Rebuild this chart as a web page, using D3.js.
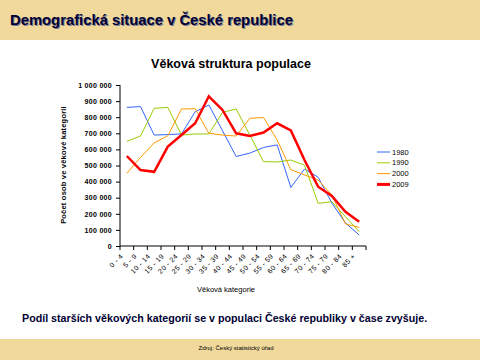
<!DOCTYPE html>
<html><head><meta charset="utf-8">
<script src="https://cdn.jsdelivr.net/npm/d3@7"></script>
<style>body{margin:0;background:#fff}svg{display:block}</style>
</head><body>
<svg id="c" width="480" height="360"></svg>
<script>
const categories = ["0 - 4","5 - 9","10 - 14","15 - 19","20 - 24","25 - 29","30 - 34","35 - 39","40 - 44","45 - 49","50 - 54","55 - 59","60 - 64","65 - 69","70 - 74","75 - 79","80 - 84","85 +"];
const years = ["1980","1990","2000","2009"];
const s1980 = [861000,866000,689000,692000,696000,834000,876000,716000,556000,577000,612000,628000,364000,478000,427000,267000,143000,68000];
const s1990 = [650000,683000,855000,861000,689000,696000,696000,830000,851000,689000,524000,522000,534000,502000,265000,275000,182000,89000];
const s2000 = [451000,550000,640000,685000,851000,853000,700000,689000,683000,793000,798000,658000,474000,441000,410000,317000,137000,116000];
const s2009 = [559000,472000,461000,617000,689000,762000,930000,845000,700000,683000,705000,762000,718000,534000,368000,311000,213000,151000];
const yTicks = [0,100000,200000,300000,400000,500000,600000,700000,800000,900000,1000000];
const colors = ["#3366ff","#99cc00","#ff9900","#ff0000"];
const widths = [1,1,1,2.5];
const series = [s1980,s1990,s2000,s2009];

const svg = d3.select("#c");
const font = "'Liberation Sans', Arial, sans-serif";

// header / footer bands
svg.append("rect").attr("x",0).attr("y",0).attr("width",480).attr("height",40).attr("fill","#f0d99b");
svg.append("rect").attr("x",0).attr("y",339).attr("width",480).attr("height",21).attr("fill","#f0d99b");

const title = "Demografická situace v České republice";
svg.append("text").attr("x",11).attr("y",26).attr("font-family",font).attr("font-weight","bold").attr("font-size",14.8).attr("fill","#7a7a95").text(title);
svg.append("text").attr("x",10).attr("y",25).attr("font-family",font).attr("font-weight","bold").attr("font-size",14.8).attr("fill","#000033").text(title);

svg.append("text").attr("x",231).attr("y",68).attr("text-anchor","middle").attr("font-family",font).attr("font-weight","bold").attr("font-size",12.5).attr("fill","#000").text("Věková struktura  populace");

const x = d3.scaleBand().domain(categories).range([120,366]);
const y = d3.scaleLinear().domain([0,1000000]).range([246,85]);

// y axis
const yAxis = d3.axisLeft(y).tickValues(yTicks).tickSize(4).tickFormat(d => d3.format(",")(d).replace(/,/g," "));
const gy = svg.append("g").attr("transform","translate(120,0)").call(yAxis);
gy.select(".domain").attr("stroke","#000").attr("d","M0,85V246");
gy.selectAll(".tick line").attr("stroke","#000");
gy.selectAll("text").attr("font-family",font).attr("font-size",7).attr("font-weight","bold").attr("letter-spacing","0.3").attr("x",-8).attr("fill","#000");

// x axis
const xAxis = d3.axisBottom(x).tickSize(0);
const gx = svg.append("g").attr("transform","translate(0,246)").call(xAxis);
gx.select(".domain").attr("stroke","#000").attr("d","M120,0H366");
gx.selectAll(".tick line").remove();
gx.selectAll(".xt").data(d3.range(categories.length+1)).enter().append("line")
  .attr("x1",i=>120+i*x.step()).attr("x2",i=>120+i*x.step()).attr("y1",0).attr("y2",4).attr("stroke","#000");
gx.selectAll(".tick text").attr("font-family",font).attr("font-size",7).attr("fill","#000")
  .attr("text-anchor","end").attr("transform","translate(-5,9) rotate(-45)").attr("x",0).attr("y",0).attr("dy","0.35em")
  .attr("letter-spacing","0.4");

// lines
const line = d3.line().x((d,i)=>x(categories[i])+x.bandwidth()/2).y(d=>y(d));
series.forEach((s,k)=>{
  svg.append("path").datum(s).attr("d",line).attr("fill","none").attr("stroke",colors[k]).attr("stroke-width",widths[k]).attr("stroke-linejoin","miter");
});

// axis titles
svg.append("text").attr("transform","translate(66,165) rotate(-90)").attr("text-anchor","middle").attr("font-family",font).attr("font-size",7.5).attr("font-weight","bold").attr("fill","#000").attr("letter-spacing","0.2").text("Počet osob  ve  věkové  kategorii");
svg.append("text").attr("x",226).attr("y",292).attr("text-anchor","middle").attr("font-family",font).attr("font-size",7.5).attr("fill","#000").text("Věková  kategorie");

// legend
const lg = svg.append("g");
years.forEach((yr,k)=>{
  const yy = 152 + k*10.8;
  lg.append("line").attr("x1",377).attr("x2",390).attr("y1",yy).attr("y2",yy).attr("stroke",colors[k]).attr("stroke-width",k===3?3:1);
  lg.append("text").attr("x",392).attr("y",yy+2.5).attr("font-family",font).attr("font-size",7.5).attr("fill","#000").text(yr);
});

svg.append("text").attr("x",22).attr("y",322).attr("font-family",font).attr("font-weight","bold").attr("font-size",10.7).attr("fill","#000033").text("Podíl starších věkových kategorií se v populaci České republiky v čase zvyšuje.");
svg.append("text").attr("x",236).attr("y",350).attr("text-anchor","middle").attr("font-family",font).attr("font-size",6).attr("fill","#000").text("Zdroj: Český statistický úřad");
</script>
</body></html>
